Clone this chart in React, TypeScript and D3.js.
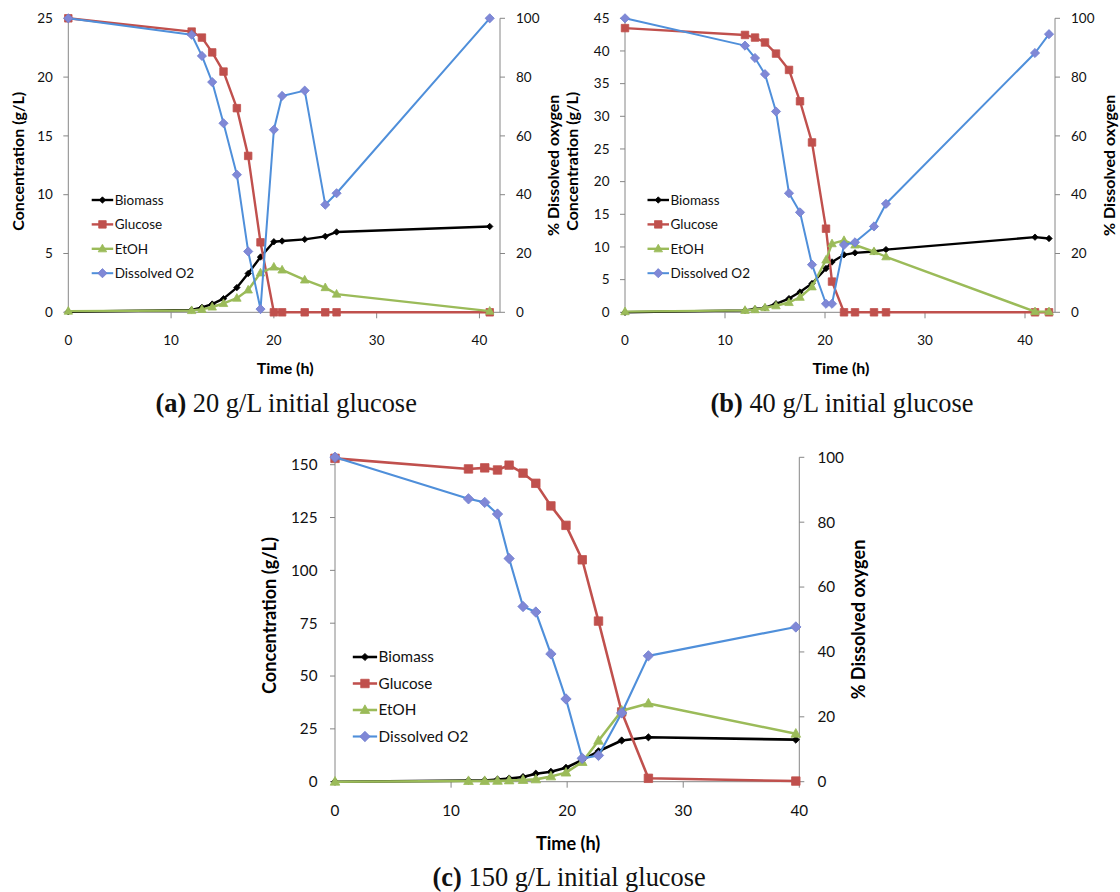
import * as d3 from 'd3';

// panel (a): 20 g/L initial glucose
const timeA = [0, 12, 13, 14, 15.1, 16.4, 17.5, 18.7, 20, 20.8, 23, 25, 26.1, 41];
const biomassA = [0.05, 0.2, 0.42, 0.7, 1.16, 2.1, 3.3, 4.7, 6.0, 6.06, 6.2, 6.46, 6.83, 7.3];
const glucoseA = [25, 23.87, 23.36, 22.1, 20.47, 17.36, 13.3, 5.95, 0, 0, 0, 0, 0, 0];
const etohA = [0.1, 0.15, 0.25, 0.45, 0.75, 1.2, 1.9, 3.35, 3.85, 3.6, 2.75, 2.1, 1.55, 0.1];
const oxygenA = [100, 94.4, 87.2, 78.3, 64.3, 46.8, 20.7, 1.1, 62.1, 73.6, 75.4, 36.6, 40.5, 100];

// panel (b): 40 g/L initial glucose
const timeB = [0, 12, 13, 14, 15.1, 16.4, 17.5, 18.7, 20.1, 20.7, 21.9, 23, 24.9, 26.1, 41, 42.4];
const biomassB = [0, 0.3, 0.5, 0.7, 1.3, 2.1, 3.1, 4.4, 6.7, 7.7, 8.8, 9.1, 9.3, 9.6, 11.5, 11.3];
const glucoseB = [43.5, 42.45, 42.05, 41.3, 39.6, 37.1, 32.3, 26.0, 12.8, 4.7, 0, 0, 0, 0, 0, 0];
const etohB = [0.1, 0.3, 0.4, 0.7, 1.0, 1.5, 2.3, 3.9, 8.0, 10.5, 11.0, 10.3, 9.3, 8.5, 0.1, 0.1];
const oxygenB = [100, 90.7, 86.5, 81.0, 68.3, 40.5, 34.0, 16.2, 2.9, 2.9, 22.9, 23.8, 29.2, 36.9, 88.2, 94.6];

// panel (c): 150 g/L initial glucose
const timeC = [0, 11.5, 12.9, 14, 15, 16.2, 17.3, 18.6, 19.9, 21.3, 22.7, 24.7, 27, 39.7];
const biomassC = [0, 0.5, 0.6, 1.0, 1.5, 2.2, 3.8, 4.7, 6.6, 10.3, 14.4, 19.5, 21.0, 19.9];
const glucoseC = [153, 148, 148.5, 147.5, 149.8, 146, 141.2, 130.5, 121.3, 105, 76, 33, 1.6, 0.3];
const etohC = [0, 0.3, 0.3, 0.4, 0.6, 0.8, 1.1, 2.5, 4.3, 9.3, 19.4, 33.6, 37.0, 22.7];
const oxygenC = [100, 87.2, 86.1, 82.5, 68.8, 54.0, 52.3, 39.4, 25.5, 7.2, 8.1, 21.2, 38.8, 47.7];

const seriesNames = ['Biomass', 'Glucose', 'EtOH', 'Dissolved O2'];
const xTicks = [0, 10, 20, 30, 40];
const yTicksA = [0, 5, 10, 15, 20, 25];
const yTicksB = [0, 5, 10, 15, 20, 25, 30, 35, 40, 45];
const yTicksC = [0, 25, 50, 75, 100, 125, 150];
const o2Ticks = [0, 20, 40, 60, 80, 100];

const AXIS = '#868686';
const FONT = 'Lato, "Open Sans", sans-serif';
const SERIF = '"Liberation Serif", "DejaVu Serif", serif';

const styles = [
  { color: '#000000', fill: '#000000', shape: 'diamond', size: 3.2, width: 2.4 },
  { color: '#C0504D', fill: '#C0504D', shape: 'square', size: 7.5, width: 2.4 },
  { color: '#9BBB59', fill: '#9BBB59', shape: 'triangle', size: 8.5, width: 2.4 },
  { color: '#4F8FDA', fill: '#8088D6', shape: 'diamond', size: 4.6, width: 2 }
];

function marker(shape, s, x, y) {
  if (shape === 'square') {
    const h = s / 2;
    return `M${x - h},${y - h}h${s}v${s}h${-s}Z`;
  }
  if (shape === 'triangle') {
    const h = s * 0.9;
    return `M${x},${y - h * 0.6}L${x + s / 2},${y + h * 0.4}L${x - s / 2},${y + h * 0.4}Z`;
  }
  return `M${x},${y - s}L${x + s},${y}L${x},${y + s}L${x - s},${y}Z`;
}

function Panel(p) {
  const k = p.k;
  const x = d3.scaleLinear().domain([0, p.xMax]).range([p.left, p.right]);
  const y = d3.scaleLinear().domain([0, p.yMax]).range([p.bottom, p.top]);
  const y2 = d3.scaleLinear().domain([0, 100]).range([p.bottom, p.top]);
  const series = [p.biomass, p.glucose, p.etoh, p.oxygen];
  const midX = (p.left + p.right) / 2;
  const midY = (p.top + p.bottom) / 2;
  const tickFont = 13.5 * k;
  const titleFont = 16 * k;

  return (
    <g>
      {/* axes */}
      <line x1={p.left} x2={p.left} y1={p.top} y2={p.bottom} stroke={AXIS} />
      <line x1={p.right} x2={p.right} y1={p.top} y2={p.bottom} stroke={AXIS} />
      <line x1={p.left} x2={p.right} y1={p.bottom} y2={p.bottom} stroke={AXIS} />
      {p.yTicks.map((t) => (
        <g key={'l' + t}>
          <line x1={p.left - 5} x2={p.left} y1={y(t)} y2={y(t)} stroke={AXIS} />
          <text x={p.left - 15.5 * k} y={y(t)} dy="0.35em" textAnchor="end" fontSize={tickFont} fontFamily={FONT} fill="#111">{t}</text>
        </g>
      ))}
      {o2Ticks.map((t) => (
        <g key={'r' + t}>
          <line x1={p.right} x2={p.right + 5} y1={y2(t)} y2={y2(t)} stroke={AXIS} />
          <text x={p.right + 16 * k} y={y2(t)} dy="0.35em" textAnchor="start" fontSize={tickFont} fontFamily={FONT} fill="#111">{t}</text>
        </g>
      ))}
      {xTicks.map((t) => (
        <g key={'x' + t}>
          {t > 0 && <line x1={x(t)} x2={x(t)} y1={p.bottom} y2={p.bottom + 6} stroke={AXIS} />}
          <text x={x(t)} y={p.bottom + p.xLabelOff} dy="0.35em" textAnchor="middle" fontSize={tickFont} fontFamily={FONT} fill="#111">{t}</text>
        </g>
      ))}
      {/* titles */}
      <text transform={`translate(${p.leftTitleX},${midY - 4}) rotate(-90)`} textAnchor="middle" dy="0.35em" fontSize={titleFont} fontWeight="bold" fontFamily={FONT}>Concentration (g/L)</text>
      <text transform={`translate(${p.rightTitleX},${midY}) rotate(-90)`} textAnchor="middle" dy="0.35em" fontSize={titleFont} fontWeight="bold" fontFamily={FONT}>% Dissolved oxygen</text>
      <text x={midX + 1} y={p.bottom + p.timeOff} dy="0.35em" textAnchor="middle" fontSize={titleFont} fontWeight="bold" fontFamily={FONT}>Time (h)</text>
      <text x={midX + 2} y={p.captionY} textAnchor="middle" fontSize={26.4} fontFamily={SERIF} fill="#111">
        <tspan fontWeight="bold">{p.letter}</tspan> {p.caption}
      </text>
      {/* series */}
      {series.map((vals, i) => {
        const st = styles[i];
        const ys = i === 3 ? y2 : y;
        const line = d3.line().x((d) => x(d[0])).y((d) => ys(d[1]));
        const pts = p.time.map((t, j) => [t, vals[j]]);
        return (
          <g key={'s' + i}>
            <path d={line(pts)} fill="none" stroke={st.color} strokeWidth={st.width * Math.sqrt(k)} strokeLinejoin="round" />
            {pts.map((d, j) => (
              <path key={j} d={marker(st.shape, st.size * k, x(d[0]), ys(d[1]))} fill={st.fill} stroke={i === 3 ? '#6E7ED0' : st.color} strokeWidth={0.8} />
            ))}
          </g>
        );
      })}
      {/* legend */}
      {seriesNames.map((name, i) => {
        const st = styles[i];
        const ly = p.legendY + i * p.legendStep;
        const lx = p.legendX;
        const len = 21.5 * k;
        return (
          <g key={'g' + i}>
            <line x1={lx} x2={lx + len} y1={ly} y2={ly} stroke={st.color} strokeWidth={st.width * Math.sqrt(k)} />
            <path d={marker(st.shape, st.size * k, lx + len / 2, ly)} fill={st.fill} stroke={i === 3 ? '#6E7ED0' : st.color} strokeWidth={0.8} />
            <text x={lx + len + 1.5} y={ly} dy="0.35em" fontSize={tickFont} fontFamily={FONT} fill="#111">{name}</text>
          </g>
        );
      })}
    </g>
  );
}

export default function App() {
  return (
    <div style={{ position: 'absolute', left: 0, top: 0, width: 1120, height: 892, background: '#fff' }}>
      <svg width={1120} height={892} viewBox="0 0 1120 892" style={{ display: 'block' }}>
        <rect width={1120} height={892} fill="#fff" />
        <Panel
          k={1} left={68.3} right={500} top={18.3} bottom={312.3}
          xMax={42} yMax={25} yTicks={yTicksA}
          time={timeA} biomass={biomassA} glucose={glucoseA} etoh={etohA} oxygen={oxygenA}
          xLabelOff={27.7} timeOff={56} leftTitleX={18.3} rightTitleX={553.6}
          legendX={91.7} legendY={200} legendStep={24.4}
          captionY={411.7} letter="(a)" caption="20 g/L initial glucose"
        />
        <Panel
          k={1} left={625} right={1055} top={18.3} bottom={312.3}
          xMax={43} yMax={45} yTicks={yTicksB}
          time={timeB} biomass={biomassB} glucose={glucoseB} etoh={etohB} oxygen={oxygenB}
          xLabelOff={27.7} timeOff={56} leftTitleX={572.5} rightTitleX={1109}
          legendX={647.5} legendY={200} legendStep={24.4}
          captionY={411.7} letter="(b)" caption="40 g/L initial glucose"
        />
        <Panel
          k={1.13} left={335} right={799.3} top={457.3} bottom={781.7}
          xMax={40} yMax={153.5} yTicks={yTicksC}
          time={timeC} biomass={biomassC} glucose={glucoseC} etoh={etohC} oxygen={oxygenC}
          xLabelOff={29} timeOff={61.6} leftTitleX={269.8} rightTitleX={858.7}
          legendX={352.8} legendY={657} legendStep={26.5}
          captionY={886} letter="(c)" caption="150 g/L initial glucose"
        />
      </svg>
    </div>
  );
}
